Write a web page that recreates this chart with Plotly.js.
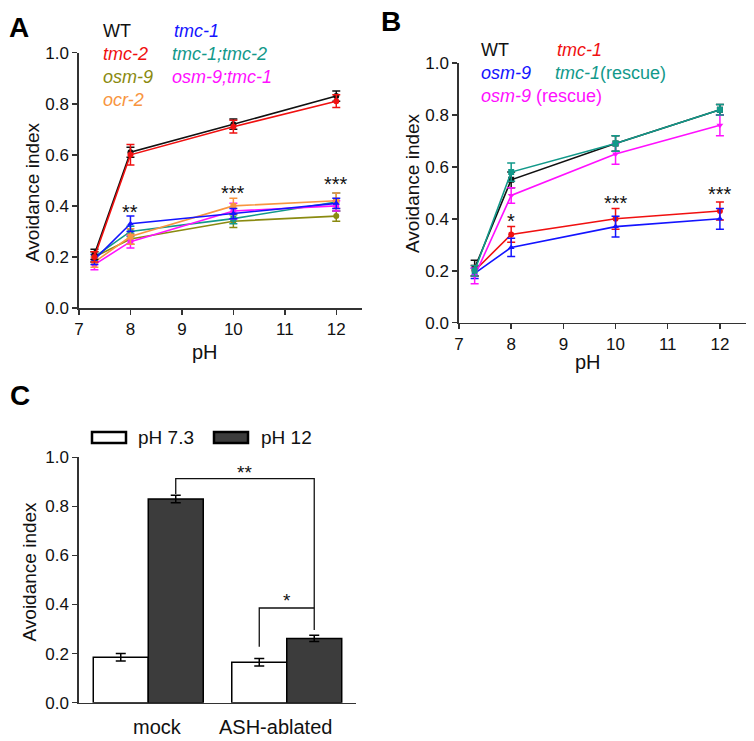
<!DOCTYPE html>
<html>
<head>
<meta charset="utf-8">
<script src="https://cdn.plot.ly/plotly-3.0.1.min.js"></script>
<style>
  html, body { margin: 0; padding: 0; background: #fff; }
  #chart { width: 754px; height: 741px; }
</style>
</head>
<body>
<div id="chart"></div>
<script>
// panel A: pH response of mutants
var phA = [7.3, 8, 10, 12];
var wtA = [0.21, 0.61, 0.72, 0.83];
var wtAErr = [0.02, 0.02, 0.02, 0.02];
var tmc2A = [0.20, 0.60, 0.71, 0.81];
var tmc2AErr = [0.02, 0.04, 0.025, 0.025];
var tmc1A = [0.19, 0.33, 0.37, 0.41];
var tmc1AErr = [0.02, 0.03, 0.02, 0.02];
var tmc1tmc2A = [0.20, 0.30, 0.35, 0.415];
var tmc1tmc2AErr = [0.02, 0.02, 0.02, 0.035];
var osm9A = [0.20, 0.27, 0.34, 0.36];
var osm9AErr = [0.02, 0.02, 0.025, 0.02];
var osm9tmc1A = [0.17, 0.26, 0.38, 0.40];
var osm9tmc1AErr = [0.02, 0.025, 0.03, 0.02];
var ocr2A = [0.18, 0.28, 0.40, 0.42];
var ocr2AErr = [0.02, 0.03, 0.03, 0.03];
var starsA = ["**", "***", "***"];
var starsAx = [8, 10, 12];
var starsAy = [0.375, 0.45, 0.485];

// panel B: rescue
var phB = [7.3, 8, 10, 12];
var wtB = [0.21, 0.55, 0.69, 0.82];
var wtBErr = [0.03, 0.03, 0.03, 0.02];
var tmc1B = [0.20, 0.34, 0.40, 0.43];
var tmc1BErr = [0.02, 0.03, 0.04, 0.035];
var osm9B = [0.19, 0.29, 0.37, 0.40];
var osm9BErr = [0.02, 0.035, 0.04, 0.04];
var tmc1ResB = [0.20, 0.58, 0.69, 0.82];
var tmc1ResBErr = [0.02, 0.035, 0.03, 0.02];
var osm9ResB = [0.18, 0.49, 0.65, 0.76];
var osm9ResBErr = [0.03, 0.03, 0.04, 0.04];
var starsB = ["*", "***", "***"];
var starsBx = [8, 10, 12];
var starsBy = [0.39, 0.46, 0.495];

// panel C: ASH ablation
var groupsC = ["mock", "ASH-ablated"];
var ph73C = [0.185, 0.165];
var ph73CErr = [0.015, 0.015];
var ph12C = [0.83, 0.262];
var ph12CErr = [0.015, 0.013];

var BLACK = "#111111", RED = "#f01010", BLUE = "#1414ff", TEAL = "#12998a",
    OLIVE = "#8a8a10", MAGENTA = "#ff10ff", ORANGE = "#f89540";

var W = 754, H = 741;
function px(x) { return x / W; }
function py(y) { return 1 - y / H; }

function line(x, y, err, color, symbol, xa, ya) {
  return {
    x: x, y: y, xaxis: xa, yaxis: ya, type: "scatter", mode: "lines+markers",
    line: { color: color, width: 1.6 },
    marker: { color: color, size: 6, symbol: symbol },
    error_y: { type: "data", array: err, visible: true, color: color, thickness: 1.5, width: 4 },
    showlegend: false, hoverinfo: "skip"
  };
}

var data = [
  line(phA, osm9A, osm9AErr, OLIVE, "circle", "x", "y"),
  line(phA, tmc1tmc2A, tmc1tmc2AErr, TEAL, "square", "x", "y"),
  line(phA, osm9tmc1A, osm9tmc1AErr, MAGENTA, "circle", "x", "y"),
  line(phA, ocr2A, ocr2AErr, ORANGE, "square", "x", "y"),
  line(phA, tmc1A, tmc1AErr, BLUE, "triangle-up", "x", "y"),
  line(phA, wtA, wtAErr, BLACK, "circle", "x", "y"),
  line(phA, tmc2A, tmc2AErr, RED, "circle", "x", "y"),

  line(phB, wtB, wtBErr, BLACK, "square", "x2", "y2"),
  line(phB, tmc1B, tmc1BErr, RED, "circle", "x2", "y2"),
  line(phB, osm9B, osm9BErr, BLUE, "triangle-up", "x2", "y2"),
  line(phB, osm9ResB, osm9ResBErr, MAGENTA, "triangle-down", "x2", "y2"),
  line(phB, tmc1ResB, tmc1ResBErr, TEAL, "square", "x2", "y2"),

  {
    x: groupsC, y: ph73C, xaxis: "x3", yaxis: "y3", type: "bar", name: "pH 7.3",
    marker: { color: "#ffffff", line: { color: "#000", width: 1.5 } },
    error_y: { type: "data", array: ph73CErr, color: "#000", thickness: 1.5, width: 5 },
    showlegend: false, hoverinfo: "skip"
  },
  {
    x: groupsC, y: ph12C, xaxis: "x3", yaxis: "y3", type: "bar", name: "pH 12",
    marker: { color: "#3c3c3c", line: { color: "#000", width: 1.5 } },
    error_y: { type: "data", array: ph12CErr, color: "#000", thickness: 1.5, width: 5 },
    showlegend: false, hoverinfo: "skip"
  }
];

var tickFont = { family: "Liberation Sans Narrow, Arial Narrow, Liberation Sans, Arial, sans-serif", size: 17, color: "#111" };
var textFont = "Liberation Sans, Arial, sans-serif";

function xAxis(domain, anchor) {
  return {
    domain: domain, anchor: anchor, range: [7, 12.5], tickvals: [7, 8, 9, 10, 11, 12],
    ticks: "outside", ticklen: 5, tickwidth: 1.5, tickcolor: "#333",
    showline: true, linecolor: "#333", linewidth: 1.6, showgrid: false, zeroline: false,
    tickfont: tickFont
  };
}
function yAxis(domain, anchor) {
  return {
    domain: domain, anchor: anchor, range: [0, 1], tickvals: [0, 0.2, 0.4, 0.6, 0.8, 1.0],
    tickformat: ".1f", ticks: "outside", ticklen: 5, tickwidth: 1.5, tickcolor: "#333",
    showline: true, linecolor: "#333", linewidth: 1.6, showgrid: false, zeroline: false,
    tickfont: tickFont
  };
}

var annotations = [];
function addText(x, y, text, color, size, opts) {
  var a = Object.assign({
    xref: "paper", yref: "paper", x: px(x), y: py(y), text: text, showarrow: false,
    xanchor: "left", yanchor: "middle",
    font: { family: textFont, size: size, color: color }
  }, opts || {});
  annotations.push(a);
}

// panel letters
addText(7, 27, "<b>A</b>", "#000", 28);
addText(379, 21, "<b>B</b>", "#000", 28);
addText(8, 395, "<b>C</b>", "#000", 28);

// axis titles
addText(205, 352, "pH", "#111", 20, { xanchor: "center" });
addText(588, 362, "pH", "#111", 20, { xanchor: "center" });
addText(32, 192, "Avoidance index", "#111", 19, { xanchor: "center", textangle: -90 });
addText(412, 183, "Avoidance index", "#111", 19, { xanchor: "center", textangle: -90 });
addText(28.5, 572, "Avoidance index", "#111", 19, { xanchor: "center", textangle: -90 });

// legend A
addText(101, 31, "WT", BLACK, 18);
addText(172, 31, "<i>tmc-1</i>", BLUE, 18);
addText(101, 54, "<i>tmc-2</i>", RED, 18);
addText(170, 54, "<i>tmc-1;tmc-2</i>", TEAL, 18);
addText(101, 77, "<i>osm-9</i>", OLIVE, 18);
addText(170, 77, "<i>osm-9;tmc-1</i>", MAGENTA, 18);
addText(101, 100, "<i>ocr-2</i>", ORANGE, 18);

// legend B
addText(479, 50, "WT", BLACK, 18);
addText(555, 50, "<i>tmc-1</i>", RED, 18);
addText(479, 73, "<i>osm-9</i>", BLUE, 18);
addText(553, 73, "<i>tmc-1</i>(rescue)", TEAL, 18);
addText(479, 96, "<i>osm-9</i> (rescue)", MAGENTA, 18);

// significance stars
starsA.forEach(function (s, i) {
  annotations.push({ xref: "x", yref: "y", x: starsAx[i], y: starsAy[i], text: s, showarrow: false,
    font: { family: textFont, size: 20, color: "#111" } });
});
starsB.forEach(function (s, i) {
  annotations.push({ xref: "x2", yref: "y2", x: starsBx[i], y: starsBy[i], text: s, showarrow: false,
    font: { family: textFont, size: 20, color: "#111" } });
});

// panel C category labels and legend text
addText(157, 727, "mock", "#111", 20, { xanchor: "center" });
addText(275, 727, "ASH-ablated", "#111", 20, { xanchor: "center" });
addText(136, 437, "pH 7.3", "#111", 19);
addText(259, 437, "pH 12", "#111", 19);
annotations.push({ xref: "x3", yref: "y3", x: 0.6985, y: 0.94, text: "**", showarrow: false,
  font: { family: textFont, size: 19, color: "#111" } });
annotations.push({ xref: "x3", yref: "y3", x: 1.0, y: 0.415, text: "*", showarrow: false,
  font: { family: textFont, size: 19, color: "#111" } });

// bar offsets inside a group (bargap 0.206 -> each bar 0.397 wide)
var off = 0.1985;
var shapes = [
  { type: "path", xref: "x3", yref: "y3",
    path: "M " + off + ",0.85 L " + off + ",0.913 L " + (1 + off) + ",0.913 L " + (1 + off) + ",0.296",
    line: { color: "#111", width: 1.3 } },
  { type: "path", xref: "x3", yref: "y3",
    path: "M " + (1 - off) + ",0.228 L " + (1 - off) + ",0.386 L " + (1 + off) + ",0.386",
    line: { color: "#111", width: 1.3 } },
  { type: "rect", xref: "paper", yref: "paper", x0: px(92), x1: px(126), y0: py(443), y1: py(432),
    fillcolor: "#fff", line: { color: "#000", width: 2.5 } },
  { type: "rect", xref: "paper", yref: "paper", x0: px(214), x1: px(248), y0: py(443), y1: py(432),
    fillcolor: "#3c3c3c", line: { color: "#000", width: 2.5 } }
];

var layout = {
  width: W, height: H,
  margin: { l: 0, r: 0, t: 0, b: 0 },
  paper_bgcolor: "#fff", plot_bgcolor: "#fff",
  showlegend: false,
  barmode: "group", bargap: 0.206, bargroupgap: 0,
  xaxis: xAxis([px(79), px(362)], "y"),
  yaxis: yAxis([py(308), py(52.7)], "x"),
  xaxis2: xAxis([px(459), px(746)], "y2"),
  yaxis2: yAxis([py(322.7), py(63)], "x2"),
  xaxis3: {
    domain: [px(79), px(356)], anchor: "y3", type: "category",
    showline: true, linecolor: "#333", linewidth: 1.6, showgrid: false, zeroline: false,
    ticks: "", showticklabels: false
  },
  yaxis3: yAxis([py(702.7), py(457.3)], "x3"),
  annotations: annotations,
  shapes: shapes
};

Plotly.newPlot("chart", data, layout, { staticPlot: true });
</script>
</body>
</html>
